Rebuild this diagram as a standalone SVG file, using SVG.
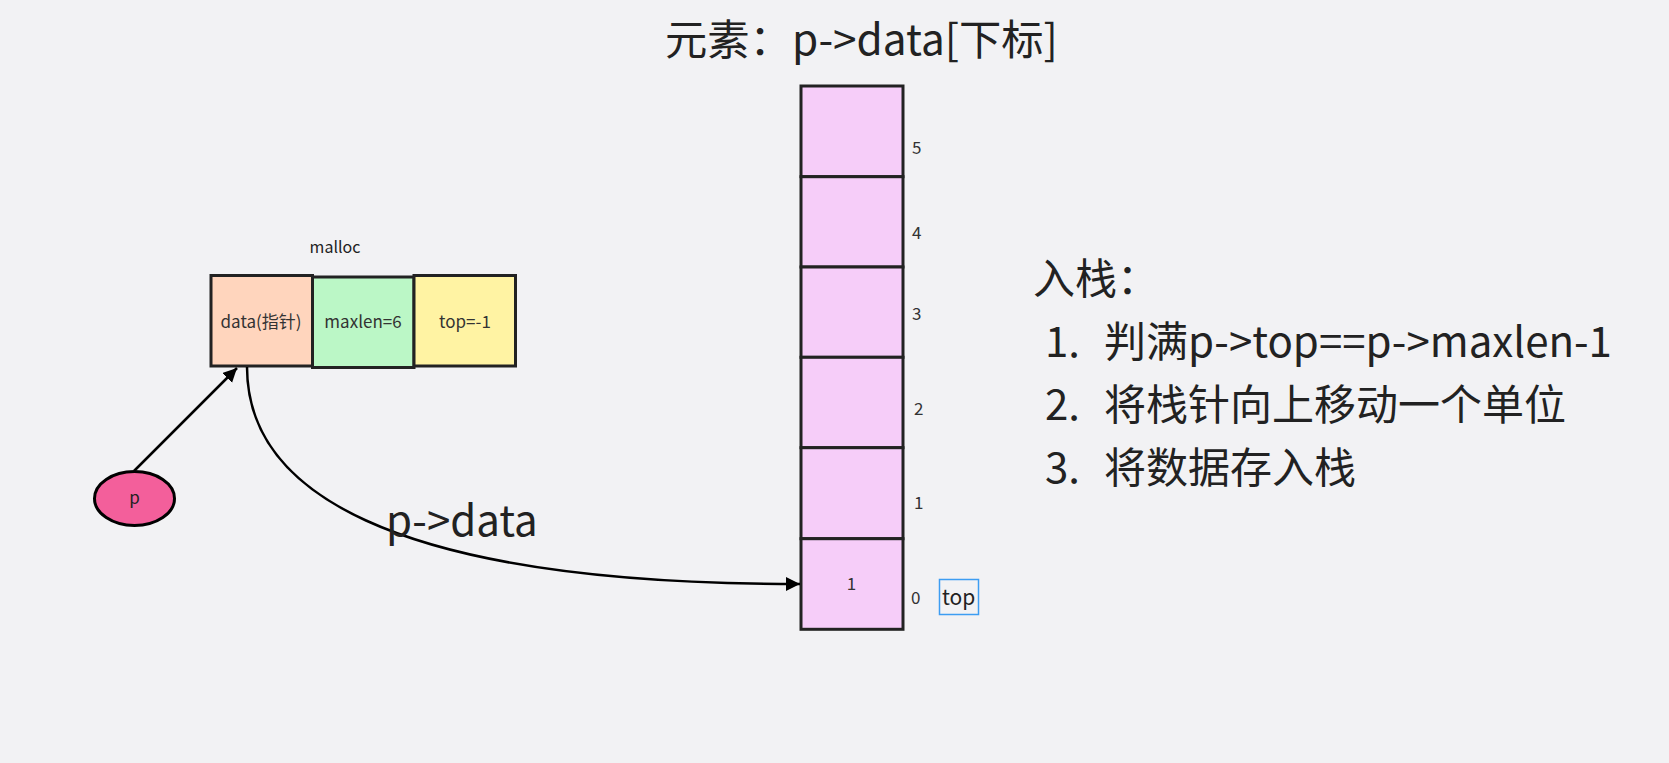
<svg xmlns="http://www.w3.org/2000/svg" width="1669" height="763" viewBox="0 0 1669 763">
<style>
  text { font-family: "Noto Sans CJK SC", "Noto Sans", sans-serif; fill: #222; }
  .box { stroke: #222; stroke-width: 3; }
  .cell { fill: #f6cdf9; stroke: #222; stroke-width: 3; }
  .idx { font-size: 17px; fill: #333; }
  .small { font-size: 17px; fill: #333; }
  .big { font-size: 42px; }
  .conn { fill: none; stroke: #000; stroke-width: 2.5; }
</style>
<defs>
  <marker id="arr" markerUnits="userSpaceOnUse" markerWidth="16" markerHeight="16" refX="14" refY="7" orient="auto">
    <path d="M0,0 L14,7 L0,14 z" fill="#000"/>
  </marker>
</defs>
<rect x="0" y="0" width="1669" height="763" fill="#f2f2f4"/>

<g id="title"><text x="665" y="55" font-size="42.3">元素：p-&gt;data[下标]</text></g>

<g id="malloc-label"><text x="335" y="253" font-size="16" text-anchor="middle" fill="#333">malloc</text></g>

<g id="node-data">
  <rect class="box" x="211" y="275.5" width="101.5" height="90.5" fill="#ffd5bd"/>
  <text class="small" x="261" y="328" text-anchor="middle">data(指针)</text>
</g>
<g id="node-maxlen">
  <rect class="box" x="312.5" y="277" width="101.5" height="90.5" fill="#bbf7c6"/>
  <text class="small" x="363" y="328" text-anchor="middle">maxlen=6</text>
</g>
<g id="node-top">
  <rect class="box" x="414" y="275.5" width="101.5" height="90.5" fill="#fff3a3"/>
  <text class="small" x="465" y="328" text-anchor="middle">top=-1</text>
</g>

<g id="node-p">
  <ellipse cx="134.5" cy="498.5" rx="40" ry="27" fill="#f35f9b" stroke="#000" stroke-width="3"/>
  <text x="134.5" y="504" font-size="17" text-anchor="middle" fill="#333">p</text>
</g>

<g id="stack">
  <rect class="cell" x="801" y="86" width="102" height="90.7"/>
  <rect class="cell" x="801" y="176.7" width="102" height="90.3"/>
  <rect class="cell" x="801" y="267" width="102" height="90.3"/>
  <rect class="cell" x="801" y="357.3" width="102" height="90.4"/>
  <rect class="cell" x="801" y="447.7" width="102" height="91"/>
  <rect class="cell" x="801" y="538.7" width="102" height="90.6"/>
  <text class="idx" x="851.5" y="590" text-anchor="middle">1</text>
</g>

<g id="indices">
  <text class="idx" x="912" y="154">5</text>
  <text class="idx" x="912" y="239">4</text>
  <text class="idx" x="912" y="320">3</text>
  <text class="idx" x="914" y="415">2</text>
  <text class="idx" x="914" y="509">1</text>
  <text class="idx" x="911" y="604">0</text>
</g>

<g id="top-label">
  <rect x="939.5" y="579.5" width="39" height="35" fill="none" stroke="#3d9df2" stroke-width="1.5"/>
  <text x="942" y="605" font-size="21">top</text>
</g>

<g id="connectors">
  <line class="conn" x1="134" y1="471" x2="237" y2="368" marker-end="url(#arr)"/>
  <path class="conn" d="M247,367 C247,487 380,584 800,584" marker-end="url(#arr)"/>
</g>

<g id="edge-label"><text x="386" y="536" font-size="42">p-&gt;data</text></g>

<g id="push-steps">
  <text class="big" x="1033" y="294">入栈：</text>
  <text class="big" x="1045" y="357">1.</text>
  <text class="big" x="1104" y="357">判满p-&gt;top==p-&gt;maxlen-1</text>
  <text class="big" x="1045" y="420">2.</text>
  <text class="big" x="1104" y="420">将栈针向上移动一个单位</text>
  <text class="big" x="1045" y="483">3.</text>
  <text class="big" x="1104" y="483">将数据存入栈</text>
</g>
</svg>
